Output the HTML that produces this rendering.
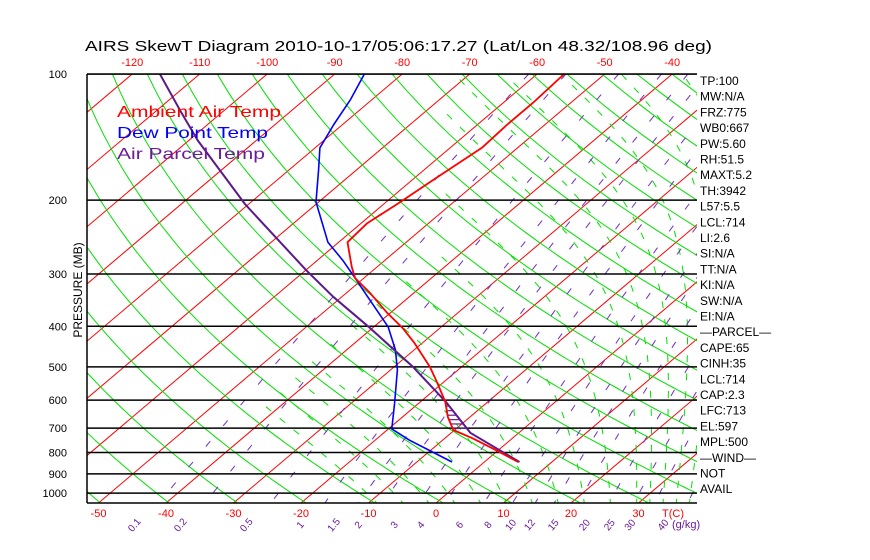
<!DOCTYPE html>
<html><head><meta charset="utf-8"><title>AIRS SkewT</title>
<style>html,body{margin:0;padding:0;background:#fff;}svg{display:block;font-family:"Liberation Sans",sans-serif;}</style>
</head><body>
<svg id="chart" width="870" height="560" viewBox="0 0 870 560" xmlns="http://www.w3.org/2000/svg">
<defs><clipPath id="plotclip"><rect x="87" y="74" width="610" height="429"/></clipPath>
<clipPath id="moistclip"><polygon points="139,503 448,241 440,74 697,74 697,503"/></clipPath></defs>
<rect x="0" y="0" width="870" height="560" fill="#fff"/>
<text x="85" y="51" font-size="15" textLength="627" lengthAdjust="spacingAndGlyphs" fill="#000">AIRS SkewT Diagram 2010-10-17/05:06:17.27 (Lat/Lon 48.32/108.96 deg)</text>
<g id="grid" clip-path="url(#plotclip)"></g>
<g id="moist" clip-path="url(#moistclip)"></g>
<g id="grid2" clip-path="url(#plotclip)"></g>
<g id="series" clip-path="url(#plotclip)"></g>
<g id="axes"></g>
<text x="117" y="117" font-size="16" fill="#ff0000" textLength="164" lengthAdjust="spacingAndGlyphs">Ambient Air Temp</text>
<text x="117" y="138" font-size="16" fill="#0000ff" textLength="151" lengthAdjust="spacingAndGlyphs">Dew Point Temp</text>
<text x="117" y="159" font-size="16" fill="#6a1b9a" textLength="148" lengthAdjust="spacingAndGlyphs">Air Parcel Temp</text>
<text transform="translate(82,290) rotate(-90)" text-anchor="middle" font-size="12" fill="#000">PRESSURE (MB)</text>
<g id="stats"></g>
</svg>
<script>
// ---- Data (pressure mb / temperature C) ----
const tempP = [843,782,740,707,658,606,546,500,439,404,370,333,307,289,252,227,202,179,150,132,117,100];
const tempT = [5.0,-1.2,-5.9,-10.2,-13.3,-16.3,-20.8,-24.7,-31.1,-35.5,-40.7,-46.5,-51.3,-53.7,-58.7,-59.1,-57.9,-56.9,-55.3,-55.6,-55.6,-56.0];
const dewP = [843,800,748,703,610,508,455,401,340,307,278,252,202,169,150,132,115,100];
const dewT = [-4.8,-9.2,-14.9,-19.5,-23.6,-29.0,-32.8,-37.9,-46.2,-51.3,-56.3,-61.6,-70.4,-75.7,-79.3,-81.3,-83.2,-85.6];
const parcelP = [843,718,606,500,401,340,294,205,169,144,122,100];
const parcelT = [5.2,-7.2,-16.2,-27.2,-40.8,-51.3,-59.9,-80.4,-90.4,-98.7,-106.6,-115.9];
const pressureTicks = [100,200,300,400,500,600,700,800,900,1000];
const topTempTicks = [-120,-110,-100,-90,-80,-70,-60,-50,-40];
const bottomTempTicks = [-50,-40,-30,-20,-10,0,10,20,30];
const mixingRatios = [0.1,0.2,0.5,1,1.5,2,3,4,6,8,10,12,15,20,25,30,40];
const mixingLabels = ["0.1","0.2","0.5","1","1.5","2","3","4","6","8","10","12","15","20","25","30","40"];
const dryThetas = [200,210,220,230,240,250,260,270,280,290,300,310,320,330,340,350,360,370,380,390,400,410,420,430,440,450,460,470,480,490,500,510,520];
const moistStarts = [-12,-8,-4,0,4,8,12,16,20,24,28,30,32,34,36,38,40];
const statLabels = ["TP:100","MW:N/A","FRZ:775","WB0:667","PW:5.60","RH:51.5","MAXT:5.2","TH:3942","L57:5.5","LCL:714","LI:2.6","SI:N/A","TT:N/A","KI:N/A","SW:N/A","EI:N/A","\u2014PARCEL\u2014","CAPE:65","CINH:35","LCL:714","CAP:2.3","LFC:713","EL:597","MPL:500","\u2014WIND\u2014","NOT","AVAIL"];

const NS = "http://www.w3.org/2000/svg";
const yP = p => 74 + 182 * Math.log(p / 100);
const xT = (T, p) => 436 + 6.75 * T + 1.18 * (503 - yP(p));
function mk(tag, attrs, parent) {
  const e = document.createElementNS(NS, tag);
  for (const k in attrs) e.setAttribute(k, attrs[k]);
  parent.appendChild(e);
  return e;
}
function pts(arr) { return arr.map(a => a[0].toFixed(1) + "," + a[1].toFixed(1)).join(" "); }
const grid = document.getElementById("grid");
const grid2 = document.getElementById("grid2");
const moist = document.getElementById("moist");
const series = document.getElementById("series");
const axes = document.getElementById("axes");
const stats = document.getElementById("stats");

// isotherms
for (let T = -160; T <= 50; T += 10) {
  const l = mk("line", {x1: xT(T, 1060), y1: yP(1060), x2: xT(T, 100), y2: yP(100), stroke: "#ff0000", "stroke-width": 1}, grid);
  
  
}
// dry adiabats
dryThetas.forEach(th => {
  const a = [];
  for (let p = 100; p <= 1060; p += 10) a.push([xT(th * Math.pow(p / 1000, 0.2857) - 273.15, p), yP(p)]);
  const l = mk("polyline", {points: pts(a), fill: "none", stroke: "#00e000", "stroke-width": 1}, grid);
  
  
});
// moist adiabats
function es(T) { return 6.112 * Math.exp(17.67 * (T - 273.15) / (T - 29.65)); }
function dTdlnp(T, p) {
  const e = es(T), rs = 0.622 * e / Math.max(p - e, 1);
  return (287 * T + 2.5e6 * rs) / (1005 + 2.5e6 * 2.5e6 * rs * 0.622 / (287 * T * T));
}
moistStarts.forEach(t0 => {
  const up = [], down = [];
  let T = t0 + 273.15, lp = Math.log(1000);
  while (lp > Math.log(100)) { up.push([xT(T - 273.15, Math.exp(lp)), yP(Math.exp(lp))]); T -= dTdlnp(T, Math.exp(lp)) * 0.01; lp -= 0.01; }
  T = t0 + 273.15; lp = Math.log(1000);
  while (lp < Math.log(1065)) { T += dTdlnp(T, Math.exp(lp)) * 0.01; lp += 0.01; down.push([xT(T - 273.15, Math.exp(lp)), yP(Math.exp(lp))]); }
  const a = down.reverse().concat(up);
  const l = mk("polyline", {points: pts(a), fill: "none", stroke: "#00e000", "stroke-width": 1, "stroke-dasharray": "7 11"}, moist);
  
  
});
// mixing ratio lines
function tdFor(w, p) { const e = w * p / (622 + w); const L = Math.log(e / 6.112); return 243.5 * L / (17.67 - L); }
mixingRatios.forEach(w => {
  const a = [];
  for (let p = 100; p <= 1060; p += 10) a.push([xT(tdFor(w, p), p), yP(p)]);
  const l = mk("polyline", {points: pts(a), fill: "none", stroke: "#7030c0", "stroke-width": 1, "stroke-dasharray": "7 20"}, grid2);
  
  
});
// pressure lines
pressureTicks.forEach(p => {
  const l = mk("line", {x1: 87, y1: yP(p), x2: 697, y2: yP(p), stroke: "#000", "stroke-width": 1.5}, grid2);
  
  
});

// hatched CAPE area
function interp(P, T, p) {
  for (let i = 0; i < P.length - 1; i++) {
    if ((p <= P[i] && p >= P[i + 1])) { const f = (Math.log(p) - Math.log(P[i])) / (Math.log(P[i + 1]) - Math.log(P[i])); return T[i] + f * (T[i + 1] - T[i]); }
  }
  return null;
}
for (let p = 700; p >= 605; p -= 16) {
  const a = interp(tempP, tempT, p), b = interp(parcelP, parcelT, p);
  if (a === null || b === null || b <= a) continue;
  const l = mk("line", {x1: xT(a, p), y1: yP(p), x2: xT(b, p), y2: yP(p), stroke: "#6a1b9a", "stroke-width": 1.2}, series);
  
  
}
// profiles
function profile(P, T, color, w, name) {
  const a = P.map((p, i) => [xT(T[i], p), yP(p)]);
  const l = mk("polyline", {points: pts(a), fill: "none", stroke: color, "stroke-width": w, "stroke-linejoin": "round"}, series);
  
  
}
profile(dewP, dewT, "#0000ff", 1.6, "dew-point-line");
profile(parcelP, parcelT, "#5a1a8a", 2, "parcel-line");
profile(tempP, tempT, "#ff0000", 1.8, "temperature-line");

// borders
[[87, 74, 697, 74], [87, 503, 697, 503], [87, 74, 87, 503]].forEach(c => {
  const l = mk("line", {x1: c[0], y1: c[1], x2: c[2], y2: c[3], stroke: "#000", "stroke-width": 1.5}, axes);
  
  
});
// pressure labels
pressureTicks.forEach(p => {
  const t = mk("text", {x: 67, y: yP(p) + 4, "text-anchor": "end", "font-size": 11, fill: "#000"}, axes);
  t.textContent = p;
  
  
});
// top temp labels
topTempTicks.forEach(T => {
  const t = mk("text", {x: xT(T, 100), y: 66, "text-anchor": "middle", "font-size": 11, fill: "#ff0000"}, axes);
  t.textContent = T;
  
  
});
bottomTempTicks.forEach(T => {
  const t = mk("text", {x: 436 + 6.75 * T, y: 517, "text-anchor": "middle", "font-size": 11, fill: "#ff0000"}, axes);
  t.textContent = T;
  
  
});
const tc = mk("text", {x: 662, y: 517, "font-size": 11, fill: "#ff0000"}, axes);
tc.textContent = "T(C)";


mixingRatios.forEach((w, i) => {
  const x = xT(tdFor(w, 1056), 1056) - 22;
  const t = mk("text", {x: 0, y: 0, "text-anchor": "middle", "font-size": 10, fill: "#6a1b9a", transform: "translate(" + x.toFixed(1) + ",527) rotate(-50)"}, axes);
  t.textContent = mixingLabels[i];
  
  
});
const gk = mk("text", {x: 672, y: 528, "font-size": 11, fill: "#6a1b9a"}, axes);
gk.textContent = "(g/kg)";


// stats
statLabels.forEach((s, i) => {
  const t = mk("text", {x: 700, y: 85 + i * 15.7, "font-size": 12, fill: "#000"}, stats);
  t.textContent = s;
  
  
});
</script>
</body></html>
